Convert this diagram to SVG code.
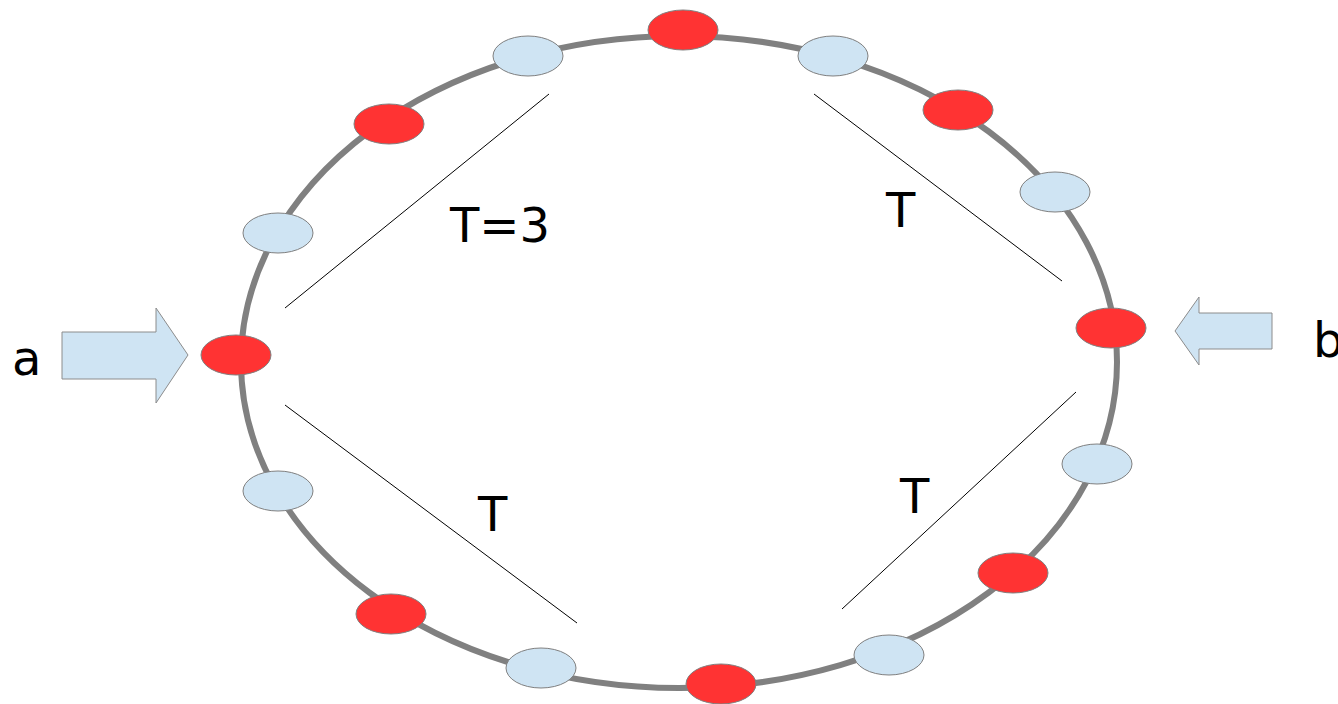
<svg xmlns="http://www.w3.org/2000/svg" width="1338" height="704" viewBox="0 0 1338 704">
<style>
.red{fill:#ff3333;stroke:#808080;stroke-width:1}
.blue{fill:#cfe4f3;stroke:#808080;stroke-width:1}
.arrow{fill:#cfe4f3;stroke:#8c8c8c;stroke-width:1}
.lbl{font-family:"DejaVu Sans",sans-serif;font-size:48px;fill:#000}
.conn line{stroke:#000;stroke-width:1}
</style>
<rect width="1338" height="704" fill="#fff"/>
<g id="ring"><ellipse cx="679" cy="362" rx="438" ry="326" fill="none" stroke="#808080" stroke-width="6"/></g>
<g id="connectors" class="conn">
<line x1="285" y1="308" x2="549" y2="94"/>
<line x1="814" y1="94" x2="1062" y2="281"/>
<line x1="285" y1="405" x2="577" y2="623"/>
<line x1="842" y1="609" x2="1076" y2="392"/>
</g>
<g id="arrow-a"><polygon class="arrow" points="62,332 156,332 156,308 188,355 156,403 156,379 62,379"/></g>
<g id="arrow-b"><polygon class="arrow" points="1272,313 1199,313 1199,297 1175,331 1199,365 1199,349 1272,349"/></g>
<g id="n1"><ellipse class="red" cx="236" cy="355" rx="35" ry="20"/></g>
<g id="n2"><ellipse class="blue" cx="278" cy="233" rx="35" ry="20"/></g>
<g id="n3"><ellipse class="red" cx="389" cy="124" rx="35" ry="20"/></g>
<g id="n4"><ellipse class="blue" cx="528" cy="56" rx="35" ry="20"/></g>
<g id="n5"><ellipse class="red" cx="683" cy="30" rx="35" ry="20"/></g>
<g id="n6"><ellipse class="blue" cx="833" cy="56" rx="35" ry="20"/></g>
<g id="n7"><ellipse class="red" cx="958" cy="110" rx="35" ry="20"/></g>
<g id="n8"><ellipse class="blue" cx="1055" cy="192" rx="35" ry="20"/></g>
<g id="n9"><ellipse class="red" cx="1111" cy="328" rx="35" ry="20"/></g>
<g id="n10"><ellipse class="blue" cx="1097" cy="464" rx="35" ry="20"/></g>
<g id="n11"><ellipse class="red" cx="1013" cy="573" rx="35" ry="20"/></g>
<g id="n12"><ellipse class="blue" cx="889" cy="655" rx="35" ry="20"/></g>
<g id="n13"><ellipse class="red" cx="721" cy="684" rx="35" ry="20"/></g>
<g id="n14"><ellipse class="blue" cx="541" cy="668" rx="35" ry="20"/></g>
<g id="n15"><ellipse class="red" cx="391" cy="614" rx="35" ry="20"/></g>
<g id="n16"><ellipse class="blue" cx="278" cy="491" rx="35" ry="20"/></g>
<g id="labels">
<text class="lbl" x="450" y="242">T=3</text>
<text class="lbl" x="886" y="227">T</text>
<text class="lbl" x="478" y="531">T</text>
<text class="lbl" x="900" y="513">T</text>
<text class="lbl" x="12" y="375">a</text>
<text class="lbl" x="1313" y="357">b</text>
</g>
</svg>
